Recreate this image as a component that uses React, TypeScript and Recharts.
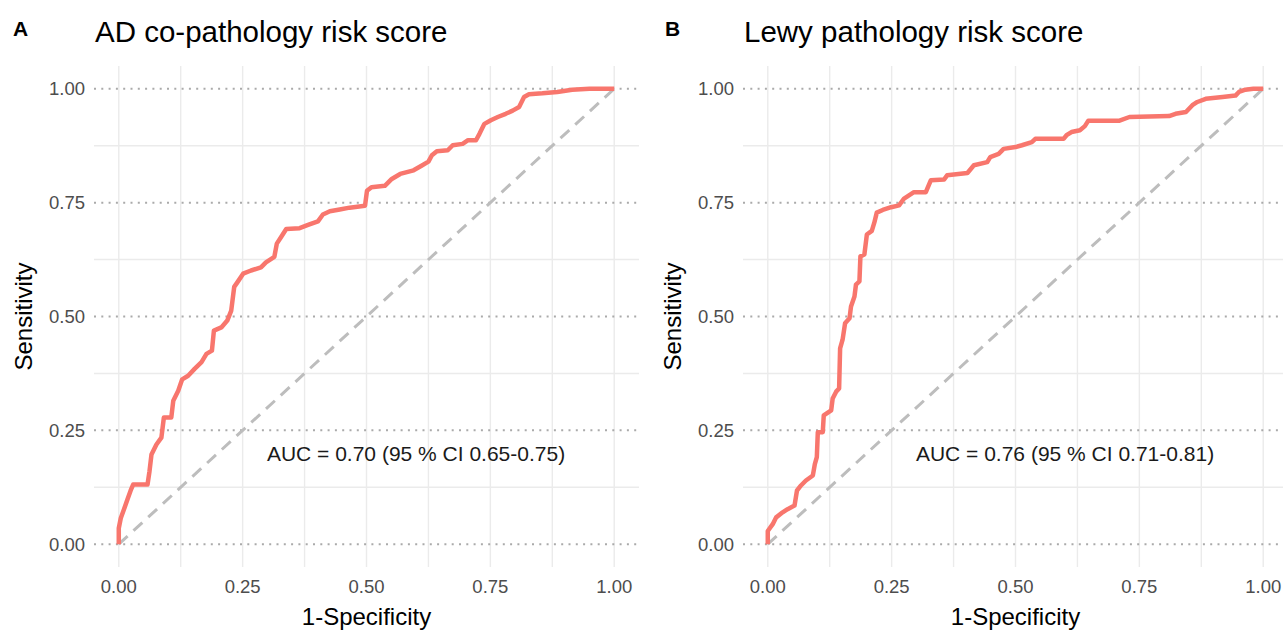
import { LineChart, Line, XAxis, YAxis, CartesianGrid, ReferenceDot } from 'recharts'

// ROC points (1 - specificity, sensitivity)
const adFpr = [
  0, 0, 0.004, 0.01, 0.018, 0.024, 0.029, 0.058, 0.062, 0.066, 0.076, 0.086, 0.091, 0.106, 0.11, 0.12,
  0.128, 0.14, 0.153, 0.167, 0.177, 0.188, 0.192, 0.207, 0.219, 0.227, 0.233, 0.24, 0.251, 0.267, 0.287,
  0.297, 0.314, 0.319, 0.328, 0.338, 0.365, 0.382, 0.402, 0.412, 0.426, 0.446, 0.466, 0.497, 0.501, 0.51,
  0.537, 0.551, 0.568, 0.595, 0.611, 0.625, 0.632, 0.642, 0.664, 0.674, 0.694, 0.705, 0.721, 0.728, 0.738,
  0.751, 0.765, 0.781, 0.795, 0.808, 0.818, 0.828, 0.855, 0.885, 0.915, 0.95, 1,
]
const adTpr = [
  0, 0.035, 0.057, 0.075, 0.1, 0.118, 0.131, 0.131, 0.16, 0.197, 0.219, 0.234, 0.278, 0.278, 0.315, 0.337,
  0.362, 0.37, 0.385, 0.4, 0.418, 0.425, 0.469, 0.476, 0.491, 0.513, 0.565, 0.576, 0.594, 0.601, 0.608,
  0.619, 0.631, 0.66, 0.675, 0.692, 0.694, 0.701, 0.709, 0.724, 0.731, 0.735, 0.739, 0.743, 0.776, 0.784,
  0.787, 0.802, 0.813, 0.821, 0.831, 0.84, 0.854, 0.863, 0.865, 0.876, 0.879, 0.887, 0.887, 0.901, 0.923,
  0.931, 0.938, 0.945, 0.952, 0.96, 0.982, 0.988, 0.99, 0.993, 0.998, 1, 1,
]

const lewyFpr = [
  0, 0, 0.01, 0.017, 0.03, 0.04, 0.054, 0.059, 0.067, 0.077, 0.091, 0.095, 0.099, 0.101, 0.111, 0.113,
  0.128, 0.131, 0.138, 0.144, 0.146, 0.151, 0.156, 0.165, 0.168, 0.175, 0.178, 0.185, 0.187, 0.195, 0.2,
  0.21, 0.215, 0.22, 0.232, 0.249, 0.265, 0.275, 0.285, 0.295, 0.319, 0.329, 0.356, 0.362, 0.403, 0.416,
  0.443, 0.449, 0.466, 0.476, 0.5, 0.513, 0.533, 0.54, 0.597, 0.603, 0.613, 0.63, 0.64, 0.647, 0.71, 0.73,
  0.81, 0.823, 0.844, 0.857, 0.867, 0.884, 0.918, 0.944, 0.951, 0.964, 0.98, 1,
]
const lewyTpr = [
  0, 0.029, 0.044, 0.059, 0.07, 0.077, 0.085, 0.118, 0.129, 0.14, 0.151, 0.176, 0.191, 0.246, 0.246, 0.283,
  0.294, 0.32, 0.335, 0.342, 0.43, 0.449, 0.485, 0.496, 0.522, 0.544, 0.57, 0.577, 0.632, 0.636, 0.68,
  0.688, 0.706, 0.728, 0.734, 0.74, 0.744, 0.759, 0.766, 0.773, 0.773, 0.799, 0.801, 0.81, 0.815, 0.832,
  0.839, 0.85, 0.857, 0.868, 0.872, 0.876, 0.883, 0.89, 0.89, 0.898, 0.905, 0.909, 0.918, 0.93, 0.93, 0.938,
  0.94, 0.945, 0.949, 0.964, 0.971, 0.978, 0.982, 0.985, 0.993, 0.998, 1, 1,
]

const chance = [0, 1]
const majorTicks = [0, 0.25, 0.5, 0.75, 1]
const gridX = [0, 0.125, 0.25, 0.375, 0.5, 0.625, 0.75, 0.875, 1]
const minorY = [0.125, 0.375, 0.625, 0.875]
const domain: [number, number] = [-0.05, 1.05]

const FONT = '"Liberation Sans", Arial, Helvetica, sans-serif'

const toPoints = (xs: number[], ys: number[]) => xs.map((x, i) => ({ x, y: ys[i] }))

function RocPanel({ fpr, tpr, auc }: { fpr: number[]; tpr: number[]; auc: string }) {
  const curve = toPoints(fpr, tpr)
  const diag = toPoints(chance, chance)
  return (
    <LineChart width={645} height={630} margin={{ top: 66, right: 6, bottom: 0, left: 0 }}>
      <CartesianGrid stroke="#ebebeb" strokeWidth={1.4} verticalValues={gridX} horizontalValues={minorY} />
      <CartesianGrid
        vertical={false}
        horizontalValues={majorTicks}
        stroke="#aaaaaa"
        strokeWidth={2}
        strokeDasharray="2 5.3"
      />
      <XAxis
        type="number"
        dataKey="x"
        domain={domain}
        ticks={majorTicks}
        tickFormatter={(v: number) => v.toFixed(2)}
        height={63}
        axisLine={false}
        tickLine={false}
        tickMargin={7}
        tick={{ fontSize: 18.5, fill: '#4d4d4d' }}
        label={{ value: '1-Specificity', position: 'insideBottom', offset: 5, fontSize: 24, fill: '#000' }}
      />
      <YAxis
        type="number"
        domain={domain}
        ticks={majorTicks}
        tickFormatter={(v: number) => v.toFixed(2)}
        width={94}
        axisLine={false}
        tickLine={false}
        tickMargin={3}
        tick={{ fontSize: 18.5, fill: '#4d4d4d' }}
        label={{
          value: 'Sensitivity',
          angle: -90,
          position: 'insideLeft',
          offset: 23,
          fontSize: 24,
          fill: '#000',
          style: { textAnchor: 'middle' },
        }}
      />
      <Line
        data={diag}
        dataKey="y"
        type="linear"
        stroke="#bdbdbd"
        strokeWidth={3}
        strokeDasharray="12 8"
        dot={false}
        activeDot={false}
        isAnimationActive={false}
      />
      <Line
        data={curve}
        dataKey="y"
        type="linear"
        stroke="#F8766D"
        strokeWidth={4.5}
        strokeLinejoin="round"
        dot={false}
        activeDot={false}
        isAnimationActive={false}
      />
      <ReferenceDot
        x={0.6}
        y={0.2}
        r={0}
        fill="none"
        stroke="none"
        label={{ value: auc, position: 'center', fontSize: 21, fill: '#1a1a1a' }}
      />
    </LineChart>
  )
}

export default function App() {
  return (
    <div
      style={{
        position: 'absolute',
        left: 0,
        top: 0,
        width: 1283,
        height: 630,
        overflow: 'hidden',
        background: '#fff',
        fontFamily: FONT,
      }}
    >
      <div style={{ position: 'absolute', left: 0, top: 0 }}>
        <RocPanel fpr={adFpr} tpr={adTpr} auc="AUC = 0.70 (95 % CI 0.65-0.75)" />
      </div>
      <div style={{ position: 'absolute', left: 649, top: 0 }}>
        <RocPanel fpr={lewyFpr} tpr={lewyTpr} auc="AUC = 0.76 (95 % CI 0.71-0.81)" />
      </div>
      <svg
        width={1283}
        height={630}
        style={{ position: 'absolute', left: 0, top: 0, pointerEvents: 'none' }}
        fontFamily={FONT}
      >
        <text x={13} y={36} fontSize={21} fontWeight="bold" fill="#000">A</text>
        <text x={95} y={42} fontSize={29.5} fill="#000">AD co-pathology risk score</text>
        <text x={665} y={36} fontSize={21} fontWeight="bold" fill="#000">B</text>
        <text x={744} y={42} fontSize={29.5} fill="#000">Lewy pathology risk score</text>
      </svg>
    </div>
  )
}
